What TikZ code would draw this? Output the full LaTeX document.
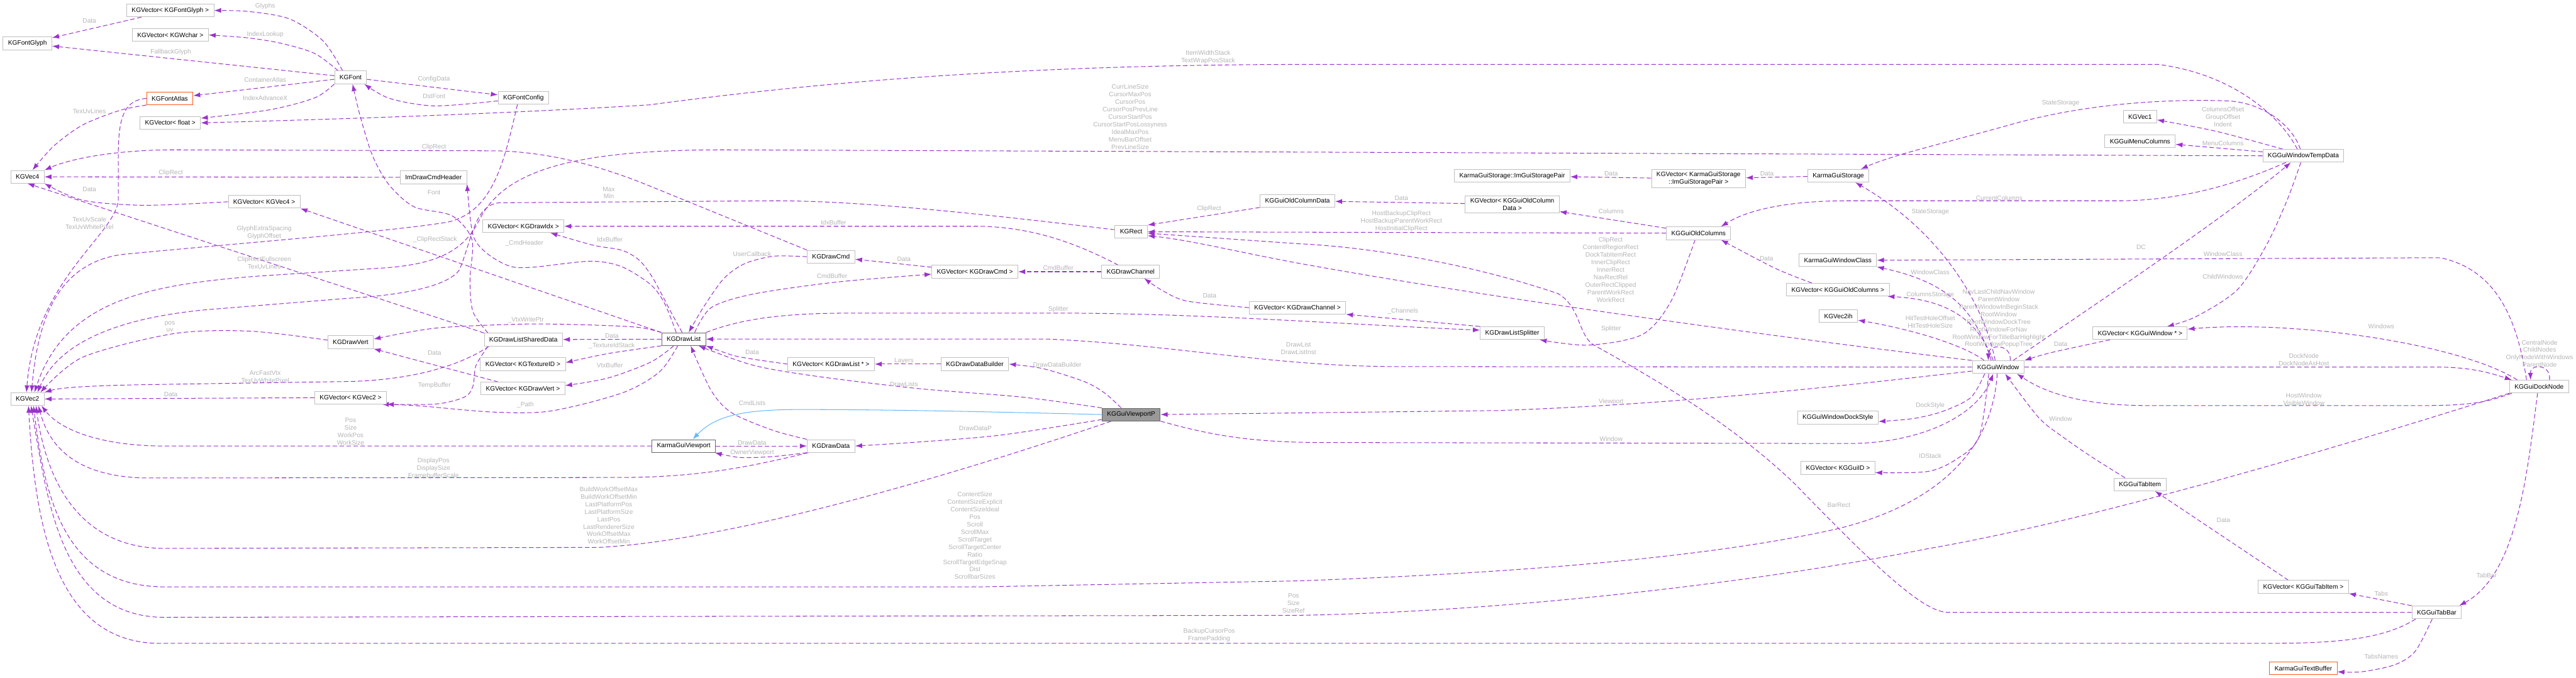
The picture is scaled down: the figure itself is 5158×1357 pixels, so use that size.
\documentclass[tikz,border=0pt]{standalone}
\usepackage{fontspec}
\setmainfont{Liberation Sans}
\usetikzlibrary{arrows.meta}
\definecolor{edgepurple}{HTML}{9A32CD}
\definecolor{edgeblue}{HTML}{63B8FF}
\definecolor{labelgray}{HTML}{B4B4B4}
\definecolor{boxgray}{HTML}{BFBFBF}
\definecolor{boxdark}{HTML}{666666}
\definecolor{boxred}{HTML}{FF5A1F}
\definecolor{mainfill}{HTML}{999999}
\newcommand{\dxfont}{\fontsize{12.8}{15}\selectfont}
\pgfdeclarelayer{edges}
\pgfsetlayers{edges,main}

\begin{document}
\begin{tikzpicture}[x=1pt, y=-1pt,
		cls/.style={draw=boxgray, fill=white, line width=1.2pt, font=\dxfont, inner xsep=10pt, inner ysep=5pt, minimum height=25.5pt, align=center},
		clsdoc/.style={cls, draw=boxdark},
		clstrunc/.style={cls, draw=boxred},
		clsmain/.style={cls, draw=boxdark, fill=mainfill},
		memb/.style={draw=edgepurple, line width=1.3pt, dash pattern=on 9pt off 5pt, -{Latex[length=14pt, width=10pt]}},
		inherit/.style={draw=edgeblue, line width=1.3pt, -{Latex[length=14pt, width=10pt]}},
		lbl/.style={text=labelgray, font=\dxfont, align=center, inner sep=0pt}]
	\useasboundingbox (0,0) rectangle (5158,1357);

	\node[cls] (fontglyphvec) at (341,21) {KGVector< KGFontGlyph >};
	\node[cls] (wcharvec) at (341,70) {KGVector< KGWchar >};
	\node[cls] (fontglyph) at (55,87) {KGFontGlyph};
	\node[cls] (font) at (702,155) {KGFont};
	\node[clstrunc] (fontatlas) at (340,197) {KGFontAtlas};
	\node[cls] (fontconfig) at (1048,196) {KGFontConfig};
	\node[cls] (floatvec) at (341,246) {KGVector< float >};
	\node[cls] (vecfour) at (55,354) {KGVec4};
	\node[cls] (cmdheader) at (868,355) {ImDrawCmdHeader};
	\node[cls] (vecfourvec) at (529,404) {KGVector< KGVec4 >};
	\node[cls] (idxvec) at (1048,453) {KGVector< KGDrawIdx >};
	\node[cls] (drawvert) at (702,685) {KGDrawVert};
	\node[cls] (shareddata) at (1048,680) {KGDrawListSharedData};
	\node[cls] (texidvec) at (1047,729) {KGVector< KGTextureID >};
	\node[cls] (drawvertvec) at (1047,778) {KGVector< KGDrawVert >};
	\node[cls] (vectwo) at (55,799) {KGVec2};
	\node[cls] (vectwovec) at (702,796) {KGVector< KGVec2 >};
	\node[clsdoc] (drawlist) at (1369,679) {KGDrawList};
	\node[cls] (drawcmd) at (1664,514) {KGDrawCmd};
	\node[cls] (drawcmdvec) at (1952,544) {KGVector< KGDrawCmd >};
	\node[cls] (channel) at (2264,544) {KGDrawChannel};
	\node[cls] (channelvec) at (2598,616) {KGVector< KGDrawChannel >};
	\node[cls] (rect) at (2265,464) {KGRect};
	\node[cls] (oldcoldata) at (2598,402) {KGGuiOldColumnData};
	\node[cls] (drawlistptrvec) at (1664,729) {KGVector< KGDrawList * >};
	\node[cls] (databuilder) at (1952,729) {KGDrawDataBuilder};
	\node[clsmain] (viewportp) at (2265,830) {KGGuiViewportP};
	\node[clsdoc] (viewport) at (1369,893) {KarmaGuiViewport};
	\node[cls] (drawdata) at (1664,893) {KGDrawData};
	\node[cls] (storagepair) at (3028,352) {KarmaGuiStorage::ImGuiStoragePair};
	\node[cls] (storagepairvec) at (3401,358) {KGVector< KarmaGuiStorage\\::ImGuiStoragePair >};
	\node[cls] (storage) at (3681,352) {KarmaGuiStorage};
	\node[cls] (oldcoldatavec) at (3028,409) {KGVector< KGGuiOldColumn\\Data >};
	\node[cls] (oldcols) at (3401,467) {KGGuiOldColumns};
	\node[cls] (windowclass) at (3680,521) {KarmaGuiWindowClass};
	\node[cls] (oldcolsvec) at (3680,580) {KGVector< KGGuiOldColumns >};
	\node[cls] (vectwoih) at (3681,633) {KGVec2ih};
	\node[cls] (splitter) at (3028,667) {KGDrawListSplitter};
	\node[cls] (vecone) at (4285,234) {KGVec1};
	\node[cls] (menucols) at (4285,283) {KGGuiMenuColumns};
	\node[cls] (tempdata) at (4612,312) {KGGuiWindowTempData};
	\node[cls] (windowptrvec) at (4285,667) {KGVector< KGGuiWindow * >};
	\node[cls] (dockstyle) at (3680,836) {KGGuiWindowDockStyle};
	\node[cls] (guiidvec) at (3680,937) {KGVector< KGGuiID >};
	\node[cls] (window) at (4001,735) {KGGuiWindow};
	\node[cls] (docknode) at (5084,774) {KGGuiDockNode};
	\node[cls] (tabitem) at (4285,970) {KGGuiTabItem};
	\node[cls] (tabitemvec) at (4612,1175) {KGVector< KGGuiTabItem >};
	\node[cls] (tabbar) at (4879,1226) {KGGuiTabBar};
	\node[clstrunc] (textbuffer) at (4612,1338) {KarmaGuiTextBuffer};

	\begin{pgfonlayer}{edges}
	\draw[memb] plot[smooth] coordinates {([xshift=-16pt]font.north) (647,82) (580,38) (498,23) (fontglyphvec.east)};
	\draw[memb] plot[smooth] coordinates {([xshift=-25pt]font.north) (630,107) (564,87) (498,76) (wcharvec.east)};
	\draw[memb] (font) -- (fontglyph);
	\draw[memb] (font) -- (fontatlas);
	\draw[memb] plot[smooth] coordinates {(font.south west) (630,196) (539,220) ([yshift=-4pt]floatvec.north east)};
	\draw[memb] (font) -- (fontconfig);
	\draw[memb] plot[smooth] coordinates {([yshift=-6pt]fontconfig.west) (870,212) (780,197) ([xshift=-5pt]font.south east)};
	\draw[memb] (fontglyphvec) -- (fontglyph);
	\draw[memb] plot[smooth] coordinates {(fontatlas.south west) (240,221) (166,250) (108,292) ([xshift=10pt]vecfour.north)};
	\draw[memb] (fontatlas.west) .. controls (252,200) and (238,230) .. (237,300) -- (237,400) .. controls (232,470) and (70,560) .. ([xshift=-2pt]vectwo.north);
	\draw[memb] (cmdheader) -- (vecfour);
	\draw[memb] plot[smooth] coordinates {(vecfourvec.west) (290,411) (166,401) (vecfour.south east)};
	\draw[memb] (drawcmd.north west) -- (1300,372) .. controls (1180,323) and (1080,304) .. (995,302) -- (350,300) .. controls (230,300) and (140,318) .. (vecfour.north east);
	\draw[memb] (shareddata.north west) -- (vecfour.south);
	\draw[memb] ([xshift=-12pt]fontconfig.south) .. controls (1010,320) and (990,420) .. (900,444) .. controls (800,462) and (500,485) .. (249,509) .. controls (110,525) and (75,650) .. ([xshift=8pt]vectwo.north);
	\draw[memb] (tempdata.west) -- (1450,300) .. controls (1150,300) and (1010,340) .. (960,440) .. controls (930,500) and (880,530) .. (760,537) -- (514,553) .. controls (300,570) and (130,600) .. ([xshift=14pt]vectwo.north);
	\draw[memb] plot[smooth] coordinates {([yshift=4pt]drawvert.west) (500,663) (348,668) (166,715) ([xshift=26pt]vectwo.north)};
	\draw[memb] ([xshift=10pt]shareddata.south west) .. controls (940,720) and (850,762) .. (688,764) -- (300,770) .. controls (180,772) and (120,776) .. (vectwo.north east);
	\draw[memb] (vectwovec) -- (vectwo);
	\draw[memb] ([yshift=4pt]rect.west) .. controls (1900,420) and (1700,402) .. (1549,402) -- (1000,406) .. controls (950,410) and (945,480) .. (920,540) .. controls (900,570) and (820,590) .. (700,597) -- (415,620) .. controls (250,635) and (120,680) .. ([xshift=20pt]vectwo.north);
	\draw[memb] (drawlist.north west) -- (vecfourvec.south east);
	\draw[memb] plot[smooth] coordinates {([xshift=-15pt]drawlist.north) (1331,608) (1303,570) (1245,534) (1182,523) (1067,535) (1021,533) (976,508) (947,470) (cmdheader.south east)};
	\draw[memb] plot[smooth] coordinates {([xshift=-3pt]drawlist.north) (1343,624) (1308,558) (1280,521) (1245,501) (1188,491) ([xshift=54pt]idxvec.south)};
	\draw[memb] plot[smooth] coordinates {(drawlist.north west) (1274,655) (1159,650) (1044,649) (872,657) ([yshift=6pt]drawvert.east)};
	\draw[memb] (drawlist) -- (shareddata);
	\draw[memb] plot[smooth] coordinates {(drawlist.south west) (1217,708) ([yshift=3pt]texidvec.east)};
	\draw[memb] plot[smooth] coordinates {([xshift=-20pt]drawlist.south) (1303,725) (1217,757) ([yshift=6pt]drawvertvec.east)};
	\draw[memb] plot[smooth] coordinates {([xshift=-12pt]drawlist.south) (1320,745) (1245,787) (1102,823) (987,825) (844,813) (vectwovec.south east)};
	\draw[memb] plot[smooth] coordinates {([xshift=8pt]shareddata.south west) (953,732) (947,773) (930,795) (872,809) ([xshift=-10pt]vectwovec.south east)};
	\draw[memb] ([xshift=35pt]drawvertvec.north west) -- (drawvert.south east);
	\draw[memb] plot[smooth] coordinates {([xshift=8pt]shareddata.north west) (947,624) (941,560) (945,480) (905,432) (829,414) (779,370) (746,312) (721,232) ([xshift=4pt]font.south)};
	\draw[memb] plot[smooth] coordinates {(drawcmd.west) (1549,513) (1491,528) (1449,558) (1408,616) ([xshift=10pt]drawlist.north)};
	\draw[memb] plot[smooth] coordinates {([xshift=22pt]drawlist.north) (1424,616) (1507,589) (1673,565) ([yshift=-5pt]drawcmdvec.west)};
	\draw[memb] (drawcmdvec) -- (drawcmd);
	\draw[memb] (channel) -- (drawcmdvec);
	\draw[memb] ([xshift=-25pt]channel.north) .. controls (2170,495) and (2080,455) .. (1960,453) -- (idxvec.east);
	\draw[memb] plot[smooth] coordinates {(channelvec.west) (2378,603) (2328,582) ([xshift=27pt]channel.south)};
	\draw[memb] (drawlist.north east) .. controls (1480,640) and (1560,627) .. (1700,627) -- (2129,627) .. controls (2400,627) and (2700,650) .. ([yshift=6pt]splitter.west);
	\draw[memb] (splitter.north west) -- (channelvec.south east);
	\draw[memb] plot[smooth] coordinates {([xshift=-7pt]oldcols.south) (3346,603) (3288,670) (3180,691) ([xshift=55pt]splitter.south)};
	\draw[memb] plot[smooth] coordinates {(viewportp.north west) (2046,795) (1839,778) (1632,753) (1507,731) ([xshift=-15pt]drawlist.south east)};
	\draw[memb] plot[smooth] coordinates {(drawlistptrvec.west) (1507,719) (1466,711) (drawlist.south east)};
	\draw[memb] (databuilder) -- (drawlistptrvec);
	\draw[memb] plot[smooth] coordinates {([xshift=-20pt]viewportp.north) (2212,787) (2171,764) (2088,738) (databuilder.east)};
	\draw[memb] plot[smooth] coordinates {(drawdata.north west) (1549,862) (1466,827) (1424,782) ([xshift=14pt]drawlist.south)};
	\draw[inherit] (viewportp.west) .. controls (2000,825) and (1800,820) .. (1600,820) .. controls (1480,820) and (1430,835) .. ([xshift=18pt]viewport.north);
	\draw[memb] plot[smooth] coordinates {([yshift=-10pt]viewportp.west) (2005,871) (1839,885) (drawdata.east)};
	\draw[memb] (viewport) -- (drawdata);
	\draw[memb] plot[smooth] coordinates {(drawdata.south west) (1549,914) (1482,916) ([xshift=-2pt]viewport.south east)};
	\draw[memb] (viewport.west) -- (330,893) .. controls (200,893) and (120,860) .. ([xshift=28pt]vectwo.south);
	\draw[memb] ([xshift=3pt]drawdata.south west) .. controls (1500,935) and (1400,955) .. (1250,956) -- (300,957) .. controls (160,957) and (100,900) .. ([xshift=22pt]vectwo.south);
	\draw[memb] ([xshift=-40pt]viewportp.south) .. controls (2000,920) and (1500,1080) .. (1200,1096) -- (330,1098) .. controls (170,1098) and (95,980) .. ([xshift=17pt]vectwo.south);
	\draw[memb] ([xshift=-2pt]window.south) .. controls (3990,900) and (3880,1010) .. (3678,1059) .. controls (3450,1110) and (3100,1145) .. (2600,1163) -- (1963,1175) -- (330,1175) .. controls (130,1175) and (90,1000) .. ([xshift=12pt]vectwo.south);
	\draw[memb] (docknode.south west) .. controls (4700,890) and (4200,1040) .. (3858,1099) .. controls (3500,1170) and (3000,1225) .. (2600,1232) -- (330,1236) .. controls (120,1236) and (95,1000) .. ([xshift=7pt]vectwo.south);
	\draw[memb] ([xshift=-42pt]tabbar.south) .. controls (4780,1275) and (4700,1288) .. (4550,1288) -- (330,1288) .. controls (110,1295) and (70,1050) .. ([xshift=2pt]vectwo.south);
	\draw[memb] ([yshift=-8pt]window.west) .. controls (3750,765) and (3400,808) .. (3000,822) -- (viewportp.east);
	\draw[memb] (window.west) -- (2800,734) .. controls (2550,734) and (2350,690) .. (2100,679) -- (drawlist.east);
	\draw[memb] (window.north west) .. controls (3600,680) and (3000,600) .. (2600,527) .. controls (2480,505) and (2380,480) .. ([yshift=-8pt]rect.east);
	\draw[memb] (tabbar.west) -- (3900,1226) .. controls (3850,1226) and (3750,1130) .. (3595,970) .. controls (3450,830) and (3260,730) .. (3190,690) .. controls (3160,670) and (3165,615) .. (3120,588) .. controls (2950,530) and (2750,495) .. (2600,488) -- ([yshift=-3pt]rect.east);
	\draw[memb] (oldcols) -- (rect);
	\draw[memb] (oldcoldata.south west) -- (rect.north east);
	\draw[memb] (oldcoldatavec) -- (oldcoldata);
	\draw[memb] (oldcols) -- (oldcoldatavec);
	\draw[memb] (storagepairvec) -- (storagepair);
	\draw[memb] (storage) -- (storagepairvec);
	\draw[memb] ([xshift=-6pt]tempdata.north) .. controls (4590,250) and (4530,205) .. (4460,202) .. controls (4380,199) and (4200,200) .. (4024,250) .. controls (3900,285) and (3790,310) .. ([xshift=45pt]storage.north);
	\draw[memb] ([xshift=-12pt]tempdata.north) .. controls (4570,240) and (4480,150) .. (4322,129) -- (2600,129) .. controls (2000,130) and (1600,170) .. (1300,210) .. controls (1000,228) and (700,238) .. (floatvec.east);
	\draw[memb] ([xshift=-35pt]tempdata.south) .. controls (4520,350) and (4400,400) .. (4250,402) -- (3700,402) .. controls (3580,402) and (3500,420) .. ([xshift=45pt]oldcols.north);
	\draw[memb] plot[smooth] coordinates {([xshift=-41pt]tempdata.north) (4438,263) ([yshift=-6pt]vecone.east)};
	\draw[memb] ([yshift=8pt]tempdata.west) -- ([yshift=-6pt]menucols.east);
	\draw[memb] plot[smooth] coordinates {([xshift=-5pt]tempdata.south) (4579,402) (4538,491) (4480,580) (4397,634) ([xshift=54pt]windowptrvec.north)};
	\draw[memb] ([xshift=30pt]window.north) .. controls (4150,640) and (4450,440) .. ([xshift=-25pt]tempdata.south);
	\draw[memb] (window.east) -- (4880,735) .. controls (4950,735) and (4990,748) .. ([xshift=5pt]docknode.north west);
	\draw[memb] ([xshift=5pt]docknode.south west) .. controls (4980,805) and (4950,812) .. (4850,812) -- (4300,812) .. controls (4180,812) and (4100,790) .. ([xshift=-15pt]window.south east);
	\draw[memb] ([xshift=16pt]docknode.north west) .. controls (4930,690) and (4600,640) .. ([yshift=8pt]windowptrvec.east);
	\draw[memb] ([xshift=21pt]docknode.north) .. controls (5108,728) and (5066,728) .. ([xshift=-17pt]docknode.north);
	\draw[memb] ([xshift=-25pt]docknode.north) .. controls (5040,640) and (5000,540) .. (4886,516) -- (windowclass.east);
	\draw[memb] ([xshift=-3pt]docknode.south) .. controls (5060,950) and (5040,1150) .. ([xshift=-5pt]tabbar.north east);
	\draw[memb] (tabbar.north west) -- (tabitemvec.south east);
	\draw[memb] plot[smooth] coordinates {([xshift=-9pt]tabbar.south) (4836,1304) (4795,1331) (4729,1345) ([yshift=-7pt]textbuffer.east)};
	\draw[memb] ([xshift=-30pt]tabitemvec.north) -- ([xshift=30pt]tabitem.south);
	\draw[memb] plot[smooth] coordinates {([xshift=-30pt]tabitem.north) (4190,916) (4132,876) (4082,836) ([xshift=14pt]window.south)};
	\draw[memb] plot[smooth] coordinates {([xshift=-60pt]windowptrvec.south) (4107,706) (window.north east)};
	\draw[memb] ([xshift=24pt]window.north) .. controls (4028,688) and (3982,688) .. ([xshift=-20pt]window.north);
	\draw[memb] ([xshift=-14pt]window.north) .. controls (3955,620) and (3900,565) .. (windowclass.south east);
	\draw[memb] ([xshift=-10pt]window.north) .. controls (3960,640) and (3900,600) .. ([xshift=-4pt]oldcolsvec.south east);
	\draw[memb] ([xshift=-6pt]window.north) .. controls (3970,600) and (3880,460) .. ([xshift=34pt]storage.south);
	\draw[memb] ([xshift=-28pt]window.north) .. controls (3930,690) and (3830,660) .. ([yshift=-8pt]vectwoih.east);
	\draw[memb] plot[smooth] coordinates {([xshift=-52pt]oldcolsvec.north) (3554,537) ([xshift=45pt]oldcols.south)};
	\draw[memb] plot[smooth] coordinates {([xshift=-27pt]window.south) (3946,796) (3889,824) (3831,838) ([yshift=-8pt]dockstyle.east)};
	\draw[memb] plot[smooth] coordinates {([xshift=-19pt]window.south) (3963,874) (3918,919) (3860,944) ([yshift=4pt]guiidvec.south east)};
	\draw[memb] (viewportp.south east) .. controls (2420,870) and (2500,886) .. (2650,886) -- (3700,888) .. controls (3850,888) and (3960,830) .. ([xshift=-10pt]window.south);
	\end{pgfonlayer}

	\node[lbl] (lglyphs) at (531,13) {Glyphs};
	\node[lbl] (lindexlookup) at (531,69) {IndexLookup};
	\node[lbl] (lfallback) at (342,104) {FallbackGlyph};
	\node[lbl] (lcontainer) at (531,160) {ContainerAtlas};
	\node[lbl] (ladvance) at (531,196) {IndexAdvanceX};
	\node[lbl] (lconfigdata) at (869,159) {ConfigData};
	\node[lbl] (ldstfont) at (869,193) {DstFont};
	\node[lbl] (lglyphdata) at (179,41) {Data};
	\node[lbl] (ltexuvlines) at (179,223) {TexUvLines};
	\node[lbl] (ltexuvscale) at (179,447) {TexUvScale\\TexUvWhitePixel};
	\node[lbl] (lheaderclip) at (342,346) {ClipRect};
	\node[lbl] (lvecfourdata) at (179,379) {Data};
	\node[lbl] (lcmdclip) at (869,295) {ClipRect};
	\node[lbl] (lfullscreen) at (529,526) {ClipRectFullscreen\\TexUvLines};
	\node[lbl] (lglyphextra) at (529,466) {GlyphExtraSpacing\\GlyphOffset};
	\node[lbl] (lmaxmin) at (1219,386) {Max\\Min};
	\node[lbl] (lcliprectstack) at (871,480) {\_ClipRectStack};
	\node[lbl] (lcmdheader) at (1050,487) {\_CmdHeader};
	\node[lbl] (lidxbuffer) at (1221,479) {IdxBuffer};
	\node[lbl] (lfont) at (869,385) {Font};
	\node[lbl] (lvtxwriteptr) at (1053,641) {\_VtxWritePtr};
	\node[lbl] (lshareddata) at (1225,672) {Data};
	\node[lbl] (ltextureid) at (1225,693) {\_TextureIdStack};
	\node[lbl] (lvtxbuffer) at (1221,731) {VtxBuffer};
	\node[lbl] (lpath) at (1052,811) {\_Path};
	\node[lbl] (ltempbuffer) at (870,772) {TempBuffer};
	\node[lbl] (lvertdata) at (870,706) {Data};
	\node[lbl] (lposuv) at (340,654) {pos\\uv};
	\node[lbl] (larcfast) at (531,754) {ArcFastVtx\\TexUvWhitePixel};
	\node[lbl] (lvectwodata) at (342,790) {Data};
	\node[lbl] (lviewportpos) at (702,864) {Pos\\Size\\WorkPos\\WorkSize};
	\node[lbl] (ldisplay) at (868,937) {DisplayPos\\DisplaySize\\FramebufferScale};
	\node[lbl] (lbuildwork) at (1219,1032) {BuildWorkOffsetMax\\BuildWorkOffsetMin\\LastPlatformPos\\LastPlatformSize\\LastPos\\LastRendererSize\\WorkOffsetMax\\WorkOffsetMin};
	\node[lbl] (lusercallback) at (1506,509) {UserCallback};
	\node[lbl] (lcmdbuffer) at (1666,553) {CmdBuffer};
	\node[lbl] (lcmddata) at (1810,519) {Data};
	\node[lbl] (lchancmd) at (2119,536) {CmdBuffer};
	\node[lbl] (lchanidx) at (1669,446) {IdxBuffer};
	\node[lbl] (lchandata) at (2422,592) {Data};
	\node[lbl] (lsplitter) at (2119,620) {Splitter};
	\node[lbl] (lchannels) at (2809,623) {\_Channels};
	\node[lbl] (lcolsplitter) at (3226,658) {Splitter};
	\node[lbl] (ldrawlists) at (1810,769) {DrawLists};
	\node[lbl] (lptrdata) at (1506,705) {Data};
	\node[lbl] (llayers) at (1810,723) {Layers};
	\node[lbl] (lbuilder) at (2117,730) {DrawDataBuilder};
	\node[lbl] (lcmdlists) at (1506,807) {CmdLists};
	\node[lbl] (ldrawdatap) at (1953,858) {DrawDataP};
	\node[lbl] (ldrawdata) at (1506,886) {DrawData};
	\node[lbl] (lowner) at (1506,907) {OwnerViewport};
	\node[lbl] (lcursor) at (2263,234) {CurrLineSize\\CursorMaxPos\\CursorPos\\CursorPosPrevLine\\CursorStartPos\\CursorStartPosLossyness\\IdealMaxPos\\MenuBarOffset\\PrevLineSize};
	\node[lbl] (litemwidth) at (2419,115) {ItemWidthStack\\TextWrapPosStack};
	\node[lbl] (lcontent) at (1952,1080) {ContentSize\\ContentSizeExplicit\\ContentSizeIdeal\\Pos\\Scroll\\ScrollMax\\ScrollTarget\\ScrollTargetCenter\\Ratio\\ScrollTargetEdgeSnap\\Dist\\ScrollbarSizes\\...};
	\node[lbl] (lsizeref) at (2590,1208) {Pos\\Size\\SizeRef};
	\node[lbl] (lbackup) at (2421,1272) {BackupCursorPos\\FramePadding};
	\node[lbl] (lviewport) at (3226,804) {Viewport};
	\node[lbl] (lwindow) at (3226,879) {Window};
	\node[lbl] (ldrawlist) at (2600,698) {DrawList\\DrawListInst};
	\node[lbl] (lrects) at (3225,540) {ClipRect\\ContentRegionRect\\DockTabItemRect\\InnerClipRect\\InnerRect\\NavRectRel\\OuterRectClipped\\ParentWorkRect\\WorkRect};
	\node[lbl] (lbarrect) at (3682,1011) {BarRect};
	\node[lbl] (lhostbackup) at (2806,443) {HostBackupClipRect\\HostBackupParentWorkRect\\HostInitialClipRect};
	\node[lbl] (lcoldataclip) at (2421,418) {ClipRect};
	\node[lbl] (lcoldata) at (2806,397) {Data};
	\node[lbl] (lcolumns) at (3226,423) {Columns};
	\node[lbl] (lpairdata) at (3226,347) {Data};
	\node[lbl] (lstoragedata) at (3538,347) {Data};
	\node[lbl] (lstatestorage) at (4126,207) {StateStorage};
	\node[lbl] (lcurrentcols) at (4003,396) {CurrentColumns};
	\node[lbl] (lindent) at (4451,234) {ColumnsOffset\\GroupOffset\\Indent};
	\node[lbl] (lmenucols) at (4451,287) {MenuColumns};
	\node[lbl] (lchildwindows) at (4451,554) {ChildWindows};
	\node[lbl] (ldc) at (4287,495) {DC};
	\node[lbl] (ldocknode) at (4613,720) {DockNode\\DockNodeAsHost};
	\node[lbl] (lhostwindow) at (4613,799) {HostWindow\\VisibleWindow};
	\node[lbl] (lwindows) at (4768,654) {Windows};
	\node[lbl] (lcentral) at (5085,708) {CentralNode\\ChildNodes\\OnlyNodeWithWindows\\ParentNode};
	\node[lbl] (ldockclass) at (4451,509) {WindowClass};
	\node[lbl] (ltabbar) at (4979,1152) {TabBar};
	\node[lbl] (ltabs) at (4768,1188) {Tabs};
	\node[lbl] (ltabsnames) at (4768,1314) {TabsNames};
	\node[lbl] (ltabdata) at (4452,1041) {Data};
	\node[lbl] (ltabwindow) at (4126,839) {Window};
	\node[lbl] (lwindowsdata) at (4126,689) {Data};
	\node[lbl] (lnavlast) at (4002,638) {NavLastChildNavWindow\\ParentWindow\\ParentWindowInBeginStack\\RootWindow\\RootWindowDockTree\\RootWindowForNav\\RootWindowForTitleBarHighlight\\RootWindowPopupTree};
	\node[lbl] (lwinclass) at (3865,545) {WindowClass};
	\node[lbl] (lcolstorage) at (3865,590) {ColumnsStorage};
	\node[lbl] (lhittest) at (3865,645) {HitTestHoleOffset\\HitTestHoleSize};
	\node[lbl] (lwinstorage) at (3865,425) {StateStorage};
	\node[lbl] (loldcolsdata) at (3537,518) {Data};
	\node[lbl] (ldockstyle) at (3865,812) {DockStyle};
	\node[lbl] (lidstack) at (3865,913) {IDStack};
\end{tikzpicture}
\end{document}
